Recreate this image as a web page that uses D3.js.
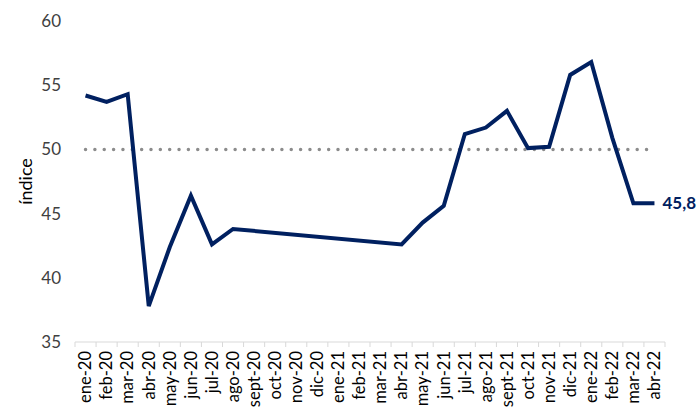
<!DOCTYPE html>
<html>
<head>
<meta charset="utf-8">
<script src="https://cdn.jsdelivr.net/npm/d3@7"></script>
<style>
  body { margin: 0; background: #fff; }
  svg { display: block; font-family: Lato, "Open Sans", sans-serif; }
</style>
</head>
<body>
<svg id="chart" width="700" height="420"></svg>
<script>
const months = ["ene-20","feb-20","mar-20","abr-20","may-20","jun-20","jul-20","ago-20","sept-20","oct-20","nov-20","dic-20","ene-21","feb-21","mar-21","abr-21","may-21","jun-21","jul-21","ago-21","sept-21","oct-21","nov-21","dic-21","ene-22","feb-22","mar-22","abr-22"];
const values = [54.2,53.7,54.3,37.8,42.4,46.4,42.6,43.8,null,null,null,null,null,null,null,42.6,44.3,45.6,51.2,51.7,53.0,50.1,50.2,55.8,56.8,50.9,45.8,45.8];
const yTicks = [35,40,45,50,55,60];
const threshold = 50;
const endLabel = "45,8";
const yTitle = "índice";

const svg = d3.select("#chart");
const m = {left: 75, right: 35, top: 21, bottom: 78};
const W = 700, H = 420;

const x = d3.scaleBand().domain(months).range([m.left, W - m.right]).padding(0);
const y = d3.scaleLinear().domain([35, 60]).range([H - m.bottom, m.top]);

// y tick labels
svg.append("g").selectAll("text").data(yTicks).join("text")
  .attr("x", 61).attr("y", d => y(d)).attr("dy", "0.35em")
  .attr("text-anchor", "end").attr("font-size", 17).attr("fill", "#404040")
  .text(d => d);

// y title
svg.append("text")
  .attr("transform", `translate(32,${y(47.5)}) rotate(-90)`)
  .attr("text-anchor", "middle").attr("font-size", 18).attr("fill", "#000")
  .text(yTitle);

// x axis
const xAxisG = svg.append("g").attr("transform", `translate(0,${y(35)})`);
xAxisG.append("line").attr("x1", x.range()[0]).attr("x2", x.range()[1])
  .attr("stroke", "#d9d9d9").attr("stroke-width", 1);
const bounds = months.map(d => x(d)).concat([x.range()[1]]);
xAxisG.selectAll("line.tk").data(bounds).join("line").attr("class", "tk")
  .attr("x1", d => d).attr("x2", d => d).attr("y1", 0).attr("y2", 5)
  .attr("stroke", "#d9d9d9");
xAxisG.selectAll("text").data(months).join("text")
  .attr("transform", d => `translate(${x(d) + x.bandwidth()/2},9) rotate(-90)`)
  .attr("text-anchor", "end").attr("dy", "0.35em")
  .attr("font-size", 16.5).attr("fill", "#000")
  .text(d => d);

// threshold dotted line
svg.append("line")
  .attr("x1", x(months[0]) + x.bandwidth()/2)
  .attr("x2", x(months[months.length-1]) + x.bandwidth()/2 - 6)
  .attr("y1", y(threshold)).attr("y2", y(threshold))
  .attr("stroke", "#8c8c8c").attr("stroke-width", 3.5)
  .attr("stroke-linecap", "round").attr("stroke-dasharray", "0,9.35");

// main line (missing months connected)
const pts = months.map((mo, i) => ({mo, v: values[i]})).filter(d => d.v != null);
const line = d3.line().x(d => x(d.mo) + x.bandwidth()/2).y(d => y(d.v));
svg.append("path").datum(pts)
  .attr("d", line).attr("fill", "none")
  .attr("stroke", "#002060").attr("stroke-width", 4)
  .attr("stroke-linejoin", "miter");

// end label
const last = pts[pts.length - 1];
svg.append("text")
  .attr("x", x(last.mo) + x.bandwidth()/2 + 8).attr("y", y(last.v)).attr("dy", "0.35em")
  .attr("font-size", 17).attr("font-weight", "bold").attr("fill", "#002060")
  .text(endLabel);
</script>
</body>
</html>
